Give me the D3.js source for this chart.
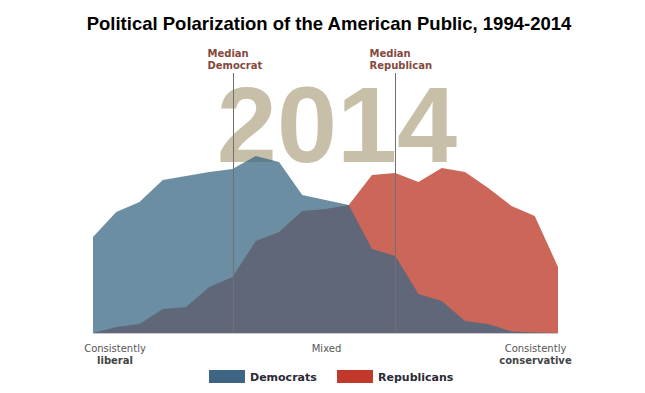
<!DOCTYPE html>
<html><head><meta charset="utf-8">
<script src="https://cdn.jsdelivr.net/npm/d3@7"></script>
<style>
html,body{margin:0;padding:0;background:#fff;}
svg{display:block;}
</style></head>
<body>
<svg id="chart" width="645" height="393"></svg>
<script>
// Ideological consistency scale positions (-10 = consistently liberal, +10 = consistently conservative)
const scalePoints = [-10,-9,-8,-7,-6,-5,-4,-3,-2,-1,0,1,2,3,4,5,6,7,8,9,10];
// Share of each party at each scale point (relative units)
const democrats   = [4.8,6.05,6.55,7.65,7.85,8.05,8.2,8.85,8.55,6.9,6.65,6.4,4.2,3.85,1.95,1.6,0.6,0.45,0.08,0.03,0];
const republicans = [0,0.3,0.45,1.2,1.3,2.3,2.8,4.6,5.05,6.1,6.2,6.4,7.9,8.0,7.55,8.25,8.05,7.25,6.35,5.85,3.3];
const medians = [{party:"Democrat", value:-4}, {party:"Republican", value:3}];
const yearLabel = "2014";
const titleText = "Political Polarization of the American Public, 1994-2014";
const axisLabels = [
  {pos:-10, line1:"Consistently", line2:"liberal"},
  {pos:0, line1:"Mixed", line2:""},
  {pos:10, line1:"Consistently", line2:"conservative"}
];
const legendItems = [{name:"Democrats", color:"#3f6585"}, {name:"Republicans", color:"#c0392b"}];

const svg = d3.select("#chart");
const x = d3.scaleLinear().domain([-10,10]).range([93,558]);
const y = d3.scaleLinear().domain([0,10]).range([333,133]);
const ARIAL = "'Liberation Sans', Arial, Helvetica, sans-serif";
const VERDANA = "'DejaVu Sans', Verdana, sans-serif";

svg.append("text").attr("x",329).attr("y",30).attr("text-anchor","middle")
  .attr("font-family",ARIAL).attr("font-weight","bold")
  .attr("font-size",18.5).attr("fill","#000").text(titleText);

svg.append("text").attr("x",337).attr("y",162).attr("text-anchor","middle")
  .attr("font-family",ARIAL).attr("font-weight","bold")
  .attr("font-size",108).attr("fill","#c8bfa9").text(yearLabel);

svg.append("line").attr("x1",x(-10)).attr("x2",x(10)).attr("y1",333.5).attr("y2",333.5)
  .attr("stroke","#c8c8c8").attr("stroke-width",1);

const area = (vals)=> d3.area().x((d,i)=>x(scalePoints[i])).y0(y(0)).y1(d=>y(d)).curve(d3.curveLinear)(vals);

svg.append("path").attr("d",area(republicans)).attr("fill","#bb3320").attr("fill-opacity",0.75);
svg.append("path").attr("d",area(democrats)).attr("fill","#3b6884").attr("fill-opacity",0.75);

medians.forEach(m=>{
  const mx = Math.round(x(m.value))+0.5;
  svg.append("line").attr("x1",mx).attr("x2",mx).attr("y1",73).attr("y2",333)
    .attr("stroke","#707070").attr("stroke-width",1);
  const t = svg.append("text").attr("x",mx-26).attr("y",57)
    .attr("font-family",VERDANA).attr("font-weight","bold")
    .attr("font-size",10).attr("fill","#84493c");
  t.append("tspan").attr("x",mx-26).attr("dy",0).text("Median");
  t.append("tspan").attr("x",mx-26).attr("dy",11.5).text(m.party);
});

axisLabels.forEach(a=>{
  const ax = a.pos===-10 ? 115 : a.pos===10 ? 535.5 : x(a.pos)+1;
  svg.append("text").attr("x",ax).attr("y",352).attr("text-anchor","middle")
    .attr("font-family",VERDANA).attr("font-size",10)
    .attr("fill","#555").text(a.line1);
  if(a.line2) svg.append("text").attr("x",ax).attr("y",364).attr("text-anchor","middle")
    .attr("font-family",VERDANA).attr("font-size",10).attr("font-weight","bold")
    .attr("fill","#444").text(a.line2);
});

const legX = [209, 337];
legendItems.forEach((l,i)=>{
  svg.append("rect").attr("x",legX[i]).attr("y",370).attr("width",36).attr("height",13).attr("fill",l.color);
  svg.append("text").attr("x",legX[i]+41).attr("y",381)
    .attr("font-family",VERDANA).attr("font-weight","bold")
    .attr("font-size",11).attr("fill","#2a2a35").text(l.name);
});
</script>
</body></html>
